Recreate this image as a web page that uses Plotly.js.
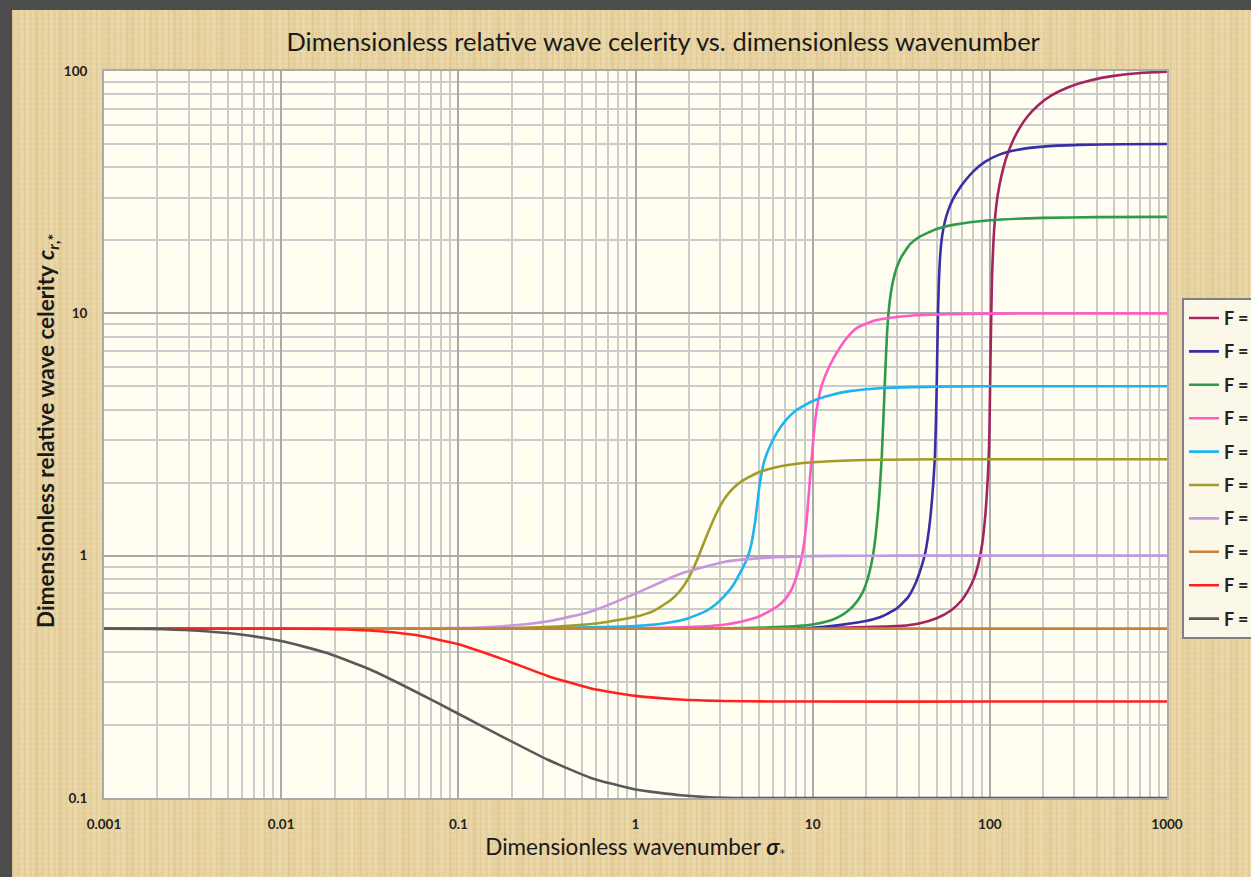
<!DOCTYPE html>
<html>
<head>
<meta charset="utf-8">
<script src="https://cdn.plot.ly/plotly-3.0.1.min.js"></script>
<style>
  html, body { margin:0; padding:0; width:1251px; height:877px; overflow:hidden; background:#4d4d4d; }
  #wrap { position:absolute; left:0; top:0; width:1251px; height:877px; overflow:hidden; }
  #bg { position:absolute; left:12px; top:10px; right:0; bottom:0;
        background-color:#E8D3A1;
        background-image:
          repeating-linear-gradient(90deg, rgba(150,110,40,0.10) 0px, rgba(150,110,40,0.10) 1px, rgba(255,248,225,0.10) 2px, transparent 3px, transparent 6px),
          repeating-linear-gradient(0deg, rgba(255,250,230,0.10) 0px, rgba(255,250,230,0.10) 1px, transparent 2px, transparent 5px),
          repeating-linear-gradient(90deg, rgba(170,130,60,0.07) 0px, transparent 9px, rgba(255,255,240,0.06) 17px, transparent 23px);
  }
  #chart { position:absolute; left:0; top:0; width:1400px; height:877px; }
</style>
</head>
<body>
<div id="wrap"><div id="bg"></div><div id="chart"></div></div>
<script>
// ---- Data ----
// F value of each curve (the legend in the reference is cut after "F =")
const fValues = ['100', '50', '25', '10', '5', '2.5', '1', '0.5', '0.25', '0.1'];
const legendText = 'F =';

const x_F100 = [0.001, 1, 10, 20, 31.6, 39.8, 50.1, 60.3, 69.2, 75.9, 81.3, 86.1, 90.2, 93.3, 95.5, 97.7, 99.08, 100, 100.9, 101.9, 103.0, 104.7, 107.2, 110.9, 116.1, 123.0, 131.8, 144.5, 162.2, 186.2, 223.9, 281.8, 371.5, 501.2, 707.9, 1000];
const y_F100 = [0.5, 0.5, 0.502, 0.507, 0.513, 0.525, 0.552, 0.594, 0.653, 0.724, 0.804, 0.923, 1.096, 1.349, 1.66, 2.188, 2.884, 4.169, 6.607, 10, 14.45, 19.5, 25.12, 30.9, 36.73, 43.15, 49.55, 56.89, 64.57, 71.94, 79.43, 86.1, 91.62, 95.5, 98.17, 99.3];

const x_F50 = [0.001, 1, 10, 14.13, 19.95, 25.12, 30.2, 34.67, 38.02, 40.74, 43.15, 45.19, 46.77, 47.86, 48.98, 49.66, 50.12, 50.58, 51.05, 51.64, 52.48, 53.7, 55.59, 58.21, 61.66, 66.07, 72.44, 81.28, 93.33, 112.2, 141.3, 199.5, 316.2, 562.3, 1000];
const y_F50 = [0.5, 0.5, 0.504, 0.517, 0.537, 0.565, 0.61, 0.676, 0.767, 0.881, 1.023, 1.259, 1.585, 1.95, 2.57, 3.631, 5.012, 7.244, 10.47, 13.8, 17.38, 20.65, 23.71, 26.61, 29.38, 32.06, 35.24, 38.73, 42.07, 45.08, 47.21, 48.75, 49.55, 49.89, 50];

const x_F25 = [0.001, 1, 3.16, 6.31, 10, 12.59, 14.13, 15.85, 17.78, 19.05, 19.95, 20.89, 21.88, 22.65, 23.44, 23.99, 24.55, 25.12, 25.7, 26.3, 27.23, 28.18, 29.85, 31.62, 35.48, 39.81, 50.12, 63.1, 100, 199.5, 398, 1000];
const y_F25 = [0.5, 0.5, 0.501, 0.507, 0.52, 0.54, 0.56, 0.592, 0.646, 0.70, 0.759, 0.851, 1.0, 1.202, 1.549, 1.95, 2.57, 3.80, 5.75, 8.32, 11.22, 13.18, 15.49, 17.06, 19.28, 20.65, 22.28, 23.23, 24.21, 24.77, 24.94, 25];

const x_F10 = [0.001, 0.1, 1, 1.995, 3.162, 3.981, 5.012, 6.31, 7.079, 7.586, 7.943, 8.318, 8.71, 9.016, 9.333, 9.661, 10, 10.35, 10.72, 11.22, 11.89, 12.59, 14.13, 15.85, 17.78, 22.39, 31.62, 56.23, 100, 1000];
const y_F10 = [0.5, 0.5, 0.502, 0.508, 0.519, 0.535, 0.562, 0.617, 0.668, 0.724, 0.785, 0.871, 1.0, 1.175, 1.514, 2.089, 2.818, 3.631, 4.315, 5.012, 5.623, 6.166, 7.161, 8.035, 8.71, 9.333, 9.705, 9.908, 9.977, 10];

const x_F5 = [0.001, 0.1, 0.3, 1, 1.585, 1.995, 2.512, 2.818, 3.162, 3.548, 3.981, 4.217, 4.467, 4.732, 5.012, 5.309, 5.623, 6.31, 7.079, 7.943, 10, 12.59, 15.85, 25.12, 50.12, 100, 1000];
const y_F5 = [0.5, 0.5, 0.502, 0.512, 0.531, 0.552, 0.592, 0.627, 0.679, 0.753, 0.875, 0.955, 1.084, 1.38, 1.95, 2.427, 2.735, 3.236, 3.631, 3.945, 4.345, 4.592, 4.764, 4.92, 4.983, 5.0, 5.0];

const x_F2_5 = [0.001, 0.1, 0.158, 0.251, 0.398, 0.631, 1, 1.26, 1.58, 1.78, 2.0, 2.24, 2.51, 2.82, 3.16, 3.55, 3.98, 5.01, 6.31, 7.94, 10, 15.8, 25.1, 50, 100, 1000];
const y_F2_5 = [0.5, 0.5, 0.501, 0.5047, 0.5124, 0.5272, 0.5593, 0.5904, 0.6559, 0.715, 0.8126, 0.9716, 1.1976, 1.4617, 1.7077, 1.896, 2.031, 2.2141, 2.3238, 2.3884, 2.4279, 2.4708, 2.4885, 2.4983, 2.5, 2.5];

const x_F1 = [0.001, 0.0316, 0.056, 0.1, 0.178, 0.316, 0.562, 1, 1.78, 3.16, 5.62, 10, 17.8, 31.6, 1000];
const y_F1 = [0.5, 0.5, 0.5005, 0.5031, 0.5117, 0.5348, 0.5888, 0.6972, 0.8405, 0.9421, 0.982, 0.9954, 0.9993, 1, 1];

const x_F0_5 = [0.001, 0.01, 0.1, 1, 10, 100, 1000];
const y_F0_5 = [0.5, 0.5, 0.5, 0.5, 0.5, 0.5, 0.5];

const x_F0_25 = [0.001, 0.01, 0.0178, 0.0316, 0.0562, 0.1, 0.178, 0.316, 0.562, 1, 1.78, 3.16, 5.62, 10, 100, 1000];
const y_F0_25 = [0.5, 0.5, 0.4985, 0.4912, 0.4713, 0.4312, 0.3742, 0.3198, 0.2833, 0.2638, 0.255, 0.2515, 0.2503, 0.25, 0.25, 0.25];

const x_F0_1 = [0.001, 0.0018, 0.0032, 0.0056, 0.01, 0.018, 0.032, 0.056, 0.1, 0.18, 0.32, 0.56, 1, 1.8, 3.2, 10, 100, 1000];
const y_F0_1 = [0.5, 0.4985, 0.4914, 0.4748, 0.4444, 0.3972, 0.3381, 0.2771, 0.2227, 0.1779, 0.1438, 0.121, 0.1084, 0.1027, 0.1002, 0.1, 0.1, 0.1];

const xTickVals = [0.001, 0.01, 0.1, 1, 10, 100, 1000];
const xTickText = ['0.001', '0.01', '0.1', '1', '10', '100', '1000'];
const yTickVals = [0.1, 1, 10, 100];
const yTickText = ['0.1', '1', '10', '100'];

// ---- Styles ----
const seriesColors = ['#A3255F', '#3A2EA6', '#2E9B4A', '#FF5AC6', '#1DB4EF', '#A29B27', '#C497DF', '#C98034', '#FF2020', '#595959'];
const xs = [x_F100, x_F50, x_F25, x_F10, x_F5, x_F2_5, x_F1, x_F0_5, x_F0_25, x_F0_1];
const ys = [y_F100, y_F50, y_F25, y_F10, y_F5, y_F2_5, y_F1, y_F0_5, y_F0_25, y_F0_1];

const traces = fValues.map((f, i) => ({
  type: 'scatter', mode: 'lines', name: legendText, x: xs[i], y: ys[i],
  legendgroup: 'g' + i,
  hovertemplate: 'F = ' + f + '<br>σ* = %{x}<br>c = %{y}<extra></extra>',
  line: { color: seriesColors[i], width: 2.6, shape: 'spline', smoothing: 0.5 }
}));

// minor grid positions (2..9 within each decade)
function minorVals(lo, hi) {
  const v = [];
  for (let e = lo; e < hi; e++) for (let d = 2; d <= 9; d++) v.push(d * Math.pow(10, e));
  return v;
}

const FONT = 'Lato, "Open Sans", "DejaVu Sans", sans-serif';

const layout = {
  width: 1400, height: 877,
  paper_bgcolor: 'rgba(0,0,0,0)',
  plot_bgcolor: '#FFFEF0',
  margin: { l: 104, r: 233, t: 71, b: 79, autoexpand: false },
  font: { family: FONT, color: '#1c1c1c' },
  title: {
    text: 'Dimensionless relative wave celerity vs. dimensionless wavenumber',
    font: { family: FONT, size: 25.5, color: '#1a1a1a' },
    xref: 'paper', x: 0.526, xanchor: 'center',
    yref: 'container', y: 0.952, yanchor: 'middle'
  },
  xaxis: {
    type: 'log', range: [-3, 3],
    tickmode: 'array', tickvals: xTickVals, ticktext: xTickText,
    tickfont: { family: FONT, size: 13.5, weight: 'bold', color: '#222' },
    ticks: '', ticklabelstandoff: 13,
    showgrid: true, gridcolor: '#A9A9A9', gridwidth: 2,
    minor: { tickmode: 'array', tickvals: minorVals(-3, 3), showgrid: true, gridcolor: '#CBCBCB', gridwidth: 2, ticks: '' },
    showline: true, mirror: true, linecolor: '#A9A9A9', linewidth: 2,
    title: { text: 'Dimensionless wavenumber <b><i>σ</i></b><sub>*</sub>', font: { family: FONT, size: 22.5, color: '#1a1a1a' }, standoff: 8 },
    fixedrange: true
  },
  yaxis: {
    type: 'log', range: [-1, 2],
    tickmode: 'array', tickvals: yTickVals, ticktext: yTickText,
    tickfont: { family: FONT, size: 13.5, weight: 'bold', color: '#222' },
    ticks: '', ticklabelstandoff: 12,
    showgrid: true, gridcolor: '#A9A9A9', gridwidth: 2,
    minor: { tickmode: 'array', tickvals: minorVals(-1, 2), showgrid: true, gridcolor: '#CBCBCB', gridwidth: 2, ticks: '' },
    showline: true, mirror: true, linecolor: '#A9A9A9', linewidth: 2,
    fixedrange: true
  },
  annotations: [{
    text: 'Dimensionless relative wave celerity <i>c</i><sub><i>r</i>,*</sub>',
    xref: 'paper', yref: 'paper', x: -0.0536, y: 0.505,
    xanchor: 'center', yanchor: 'middle', textangle: -90, showarrow: false,
    font: { family: FONT, size: 22.5, weight: 'bold', color: '#1a1a1a' }
  }],
  showlegend: true,
  legend: {
    xref: 'paper', yref: 'paper', x: 1.0141, xanchor: 'left', y: 0.688, yanchor: 'top',
    bgcolor: '#FBF8E9', bordercolor: '#7F7F7F', borderwidth: 2,
    font: { family: FONT, size: 18, weight: 'bold', color: '#222' },
    tracegroupgap: 7, itemclick: false, itemdoubleclick: false
  }
};

Plotly.newPlot('chart', traces, layout, { displayModeBar: false, staticPlot: true });
</script>
</body>
</html>
